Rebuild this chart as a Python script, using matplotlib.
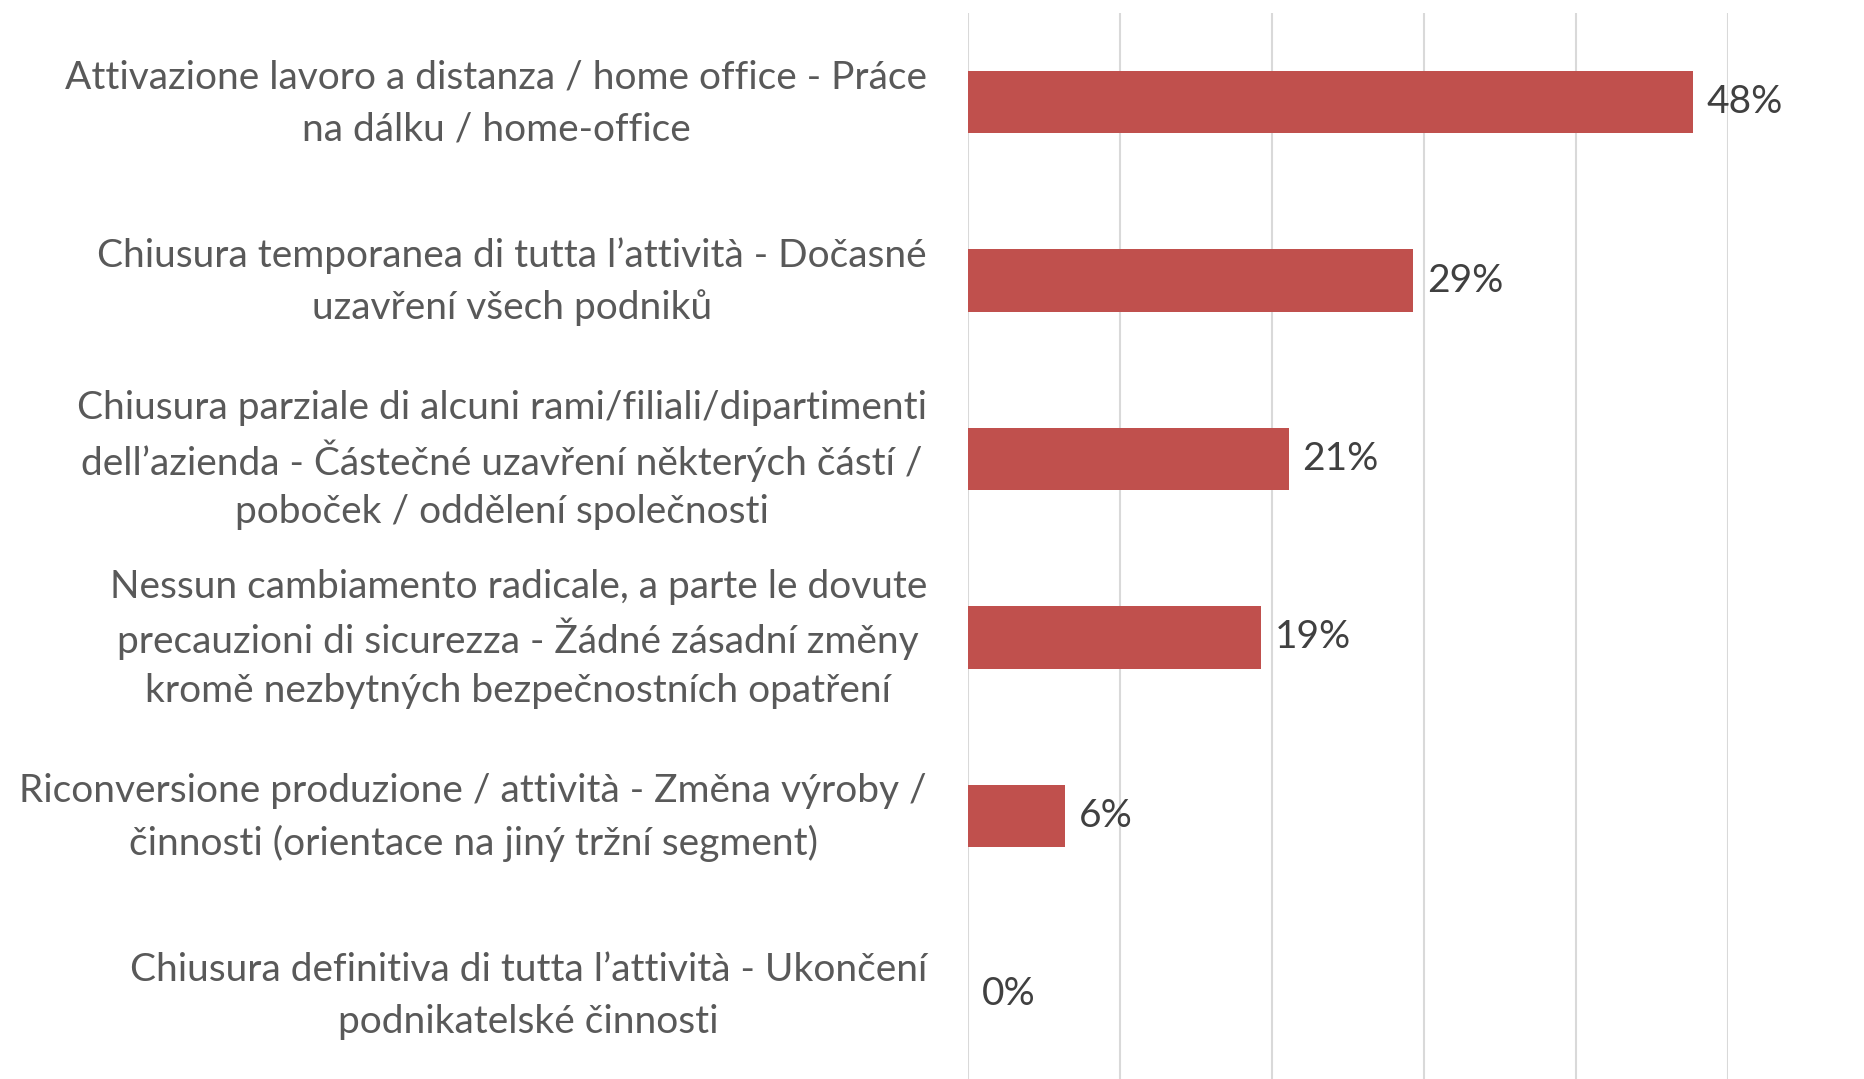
import matplotlib
matplotlib.use("Agg")
import matplotlib.pyplot as plt

# categories top -> bottom, as in the reference
categories = [
    "Attivazione lavoro a distanza / home office - Práce\nna dálku / home-office",
    "Chiusura temporanea di tutta l’attività - Dočasné\nuzavření všech podniků",
    "Chiusura parziale di alcuni rami/filiali/dipartimenti\ndell’azienda - Částečné uzavření některých částí /\npoboček / oddělení společnosti",
    "Nessun cambiamento radicale, a parte le dovute\nprecauzioni di sicurezza - Žádné zásadní změny\nkromě nezbytných bezpečnostních opatření",
    "Riconversione produzione / attività - Změna výroby /\nčinnosti (orientace na jiný tržní segment)",
    "Chiusura definitiva di tutta l’attività - Ukončení\npodnikatelské činnosti",
]
shares = [0.477, 0.293, 0.211, 0.193, 0.064, 0.0]
xticks = [0.0, 0.1, 0.2, 0.3, 0.4, 0.5]

BAR = "#C0504D"
TXT = "#404040"
CAT_TXT = "#595959"
GRID = "#D9D9D9"
FS = 28
LINE_PX = 52   # distance between label lines, pixels
GAP_PX = 41    # label block right edge to axis

plt.rcParams["font.family"] = ["Lato", "DejaVu Sans"]

W, H = 1865, 1079
fig = plt.figure(figsize=(W / 100, H / 100), dpi=100)
ax = fig.add_axes([0.519, -0.004, 0.4075, 0.992])

ypos = list(range(len(categories)))
ax.barh(ypos, shares, height=0.35, color=BAR, zorder=3)
for y, v in zip(ypos, shares):
    ax.text(v + 0.009, y, f"{v:.0%}", va="center", ha="left",
            fontsize=FS, color=TXT, zorder=4)

ax.set_xlim(0, 0.5)
ax.set_ylim(len(categories) - 0.5, -0.5)
ax.set_xticks(xticks)
ax.set_xticklabels([])
ax.set_yticks(ypos)
ax.set_yticklabels([])
ax.tick_params(length=0)
ax.grid(axis="x", color=GRID, linewidth=1.5, zorder=0)
for s in ax.spines.values():
    s.set_visible(False)

# category labels: drawn line by line so spacing stays even with accents
renderer = fig.canvas.get_renderer()
right_px = ax.get_position().x0 * W - GAP_PX
for y, cat in zip(ypos, categories):
    lines = cat.split("\n")
    widths = []
    for ln in lines:
        t = fig.text(0, 0, ln, fontsize=FS)
        widths.append(t.get_window_extent(renderer).width)
        t.remove()
    cx = right_px - max(widths) / 2
    cy = ax.transData.transform((0, y))[1] + 2
    n = len(lines)
    for k, ln in enumerate(lines):
        ly = cy + ((n - 1) / 2 - k) * LINE_PX
        fig.text(cx / W, ly / H, ln, fontsize=FS, color=CAT_TXT,
                 ha="center", va="center_baseline")

fig.savefig("out.png", dpi=100, facecolor="white")
